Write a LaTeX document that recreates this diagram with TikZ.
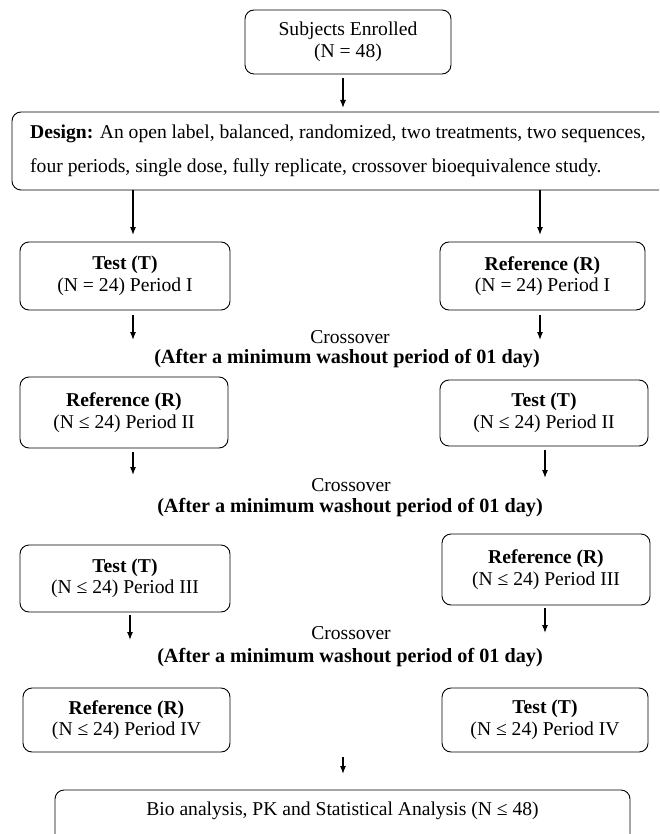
\documentclass[tikz,border=0pt]{standalone}
\usepackage{fontspec}
\setmainfont{Liberation Serif}
\usetikzlibrary{arrows.meta}
\begin{document}
\begin{tikzpicture}[x=1pt,y=-1pt,
 box/.style={draw, rounded corners=9pt, line width=0.9pt, align=center, inner sep=0pt,
   font=\fontsize{19.6}{21.5}\selectfont},
 arr/.style={line width=1.2pt, -{Latex[length=8pt,width=6pt]}},
 lbl/.style={font=\fontsize{19.6}{21.5}\selectfont, align=center, inner sep=0pt},
 wash/.style={lbl, font=\fontsize{20.2}{21.5}\selectfont\bfseries}]
\fill[white] (0,0) rectangle (659,834);
\useasboundingbox (0,0) rectangle (659,834);
\begin{scope}
\clip (0,0) rectangle (659,834);
% top
\node[box, minimum width=206pt, minimum height=64pt] (subj) at (348,42) {Subjects Enrolled\\(N = 48)};
\node[box, minimum width=678pt, minimum height=78pt] (design) at (351,151) {};
\node[lbl, align=left, anchor=west, font=\fontsize{19.6}{34}\selectfont] (dtext) at (30,151)
 {\textbf{Design:} An open label, balanced, randomized, two treatments, two sequences,\\
  four periods, single dose, fully replicate, crossover bioequivalence study.};
\coordinate (d0) at (343,108);
\draw[arr, shorten <=4pt] (subj.south -| d0) -- (d0);
% period I
\node[box, minimum width=210pt, minimum height=68pt] (T1) at (125,276) {\textbf{Test (T)}\\(N = 24) Period I};
\node[box, minimum width=205pt, minimum height=68pt] (R1) at (542.5,276) {\textbf{Reference (R)}\\(N = 24) Period I};
\coordinate (a1) at (133,235);
\coordinate (b1) at (540,235);
\draw[arr] (design.south -| a1) -- (a1);
\draw[arr] (design.south -| b1) -- (b1);
\coordinate (a2) at (133,340);
\coordinate (b2) at (540,340);
\draw[arr, shorten <=5pt] (T1.south -| a2) -- (a2);
\draw[arr, shorten <=5pt] (R1.south -| b2) -- (b2);
\node[lbl] (c1) at (350,337) {Crossover};
\node[wash] (w1) at (347,359) {(After a minimum washout period of 01 day)};
% period II
\node[box, minimum width=208pt, minimum height=71pt] (R2) at (124,412.5) {\textbf{Reference (R)}\\(N ≤ 24) Period II};
\node[box, minimum width=208pt, minimum height=66pt] (T2) at (544,413) {\textbf{Test (T)}\\(N ≤ 24) Period II};
\coordinate (a3) at (133,475);
\coordinate (b3) at (545,478);
\draw[arr, shorten <=4pt] (R2.south -| a3) -- (a3);
\draw[arr, shorten <=4pt] (T2.south -| b3) -- (b3);
\node[lbl] (c2) at (351,485) {Crossover};
\node[wash] (w2) at (350,508) {(After a minimum washout period of 01 day)};
% period III
\node[box, minimum width=210pt, minimum height=67pt] (T3) at (125,578.5) {\textbf{Test (T)}\\(N ≤ 24) Period III};
\node[box, minimum width=208pt, minimum height=71pt] (R3) at (546,569.5) {\textbf{Reference (R)}\\(N ≤ 24) Period III};
\coordinate (a4) at (130,640);
\coordinate (b4) at (545,633);
\draw[arr, shorten <=3pt] (T3.south -| a4) -- (a4);
\draw[arr, shorten <=3pt] (R3.south -| b4) -- (b4);
\node[lbl] (c3) at (351,633) {Crossover};
\node[wash] (w3) at (350,658) {(After a minimum washout period of 01 day)};
% period IV
\node[box, minimum width=207pt, minimum height=64pt] (R4) at (126.5,720) {\textbf{Reference (R)}\\(N ≤ 24) Period IV};
\node[box, minimum width=206pt, minimum height=64pt] (T4) at (545,720) {\textbf{Test (T)}\\(N ≤ 24) Period IV};
% bottom
\node[box, minimum width=575pt, minimum height=60pt] (bio) at (342.5,820) {};
\node[lbl] (biotext) at (342.5,811) {Bio analysis, PK and Statistical Analysis (N ≤ 48)};
\coordinate (e0) at (343,757);
\coordinate (e1) at (343,774);
\draw[arr] (e0) -- (e1);
\end{scope}
\end{tikzpicture}
\end{document}
